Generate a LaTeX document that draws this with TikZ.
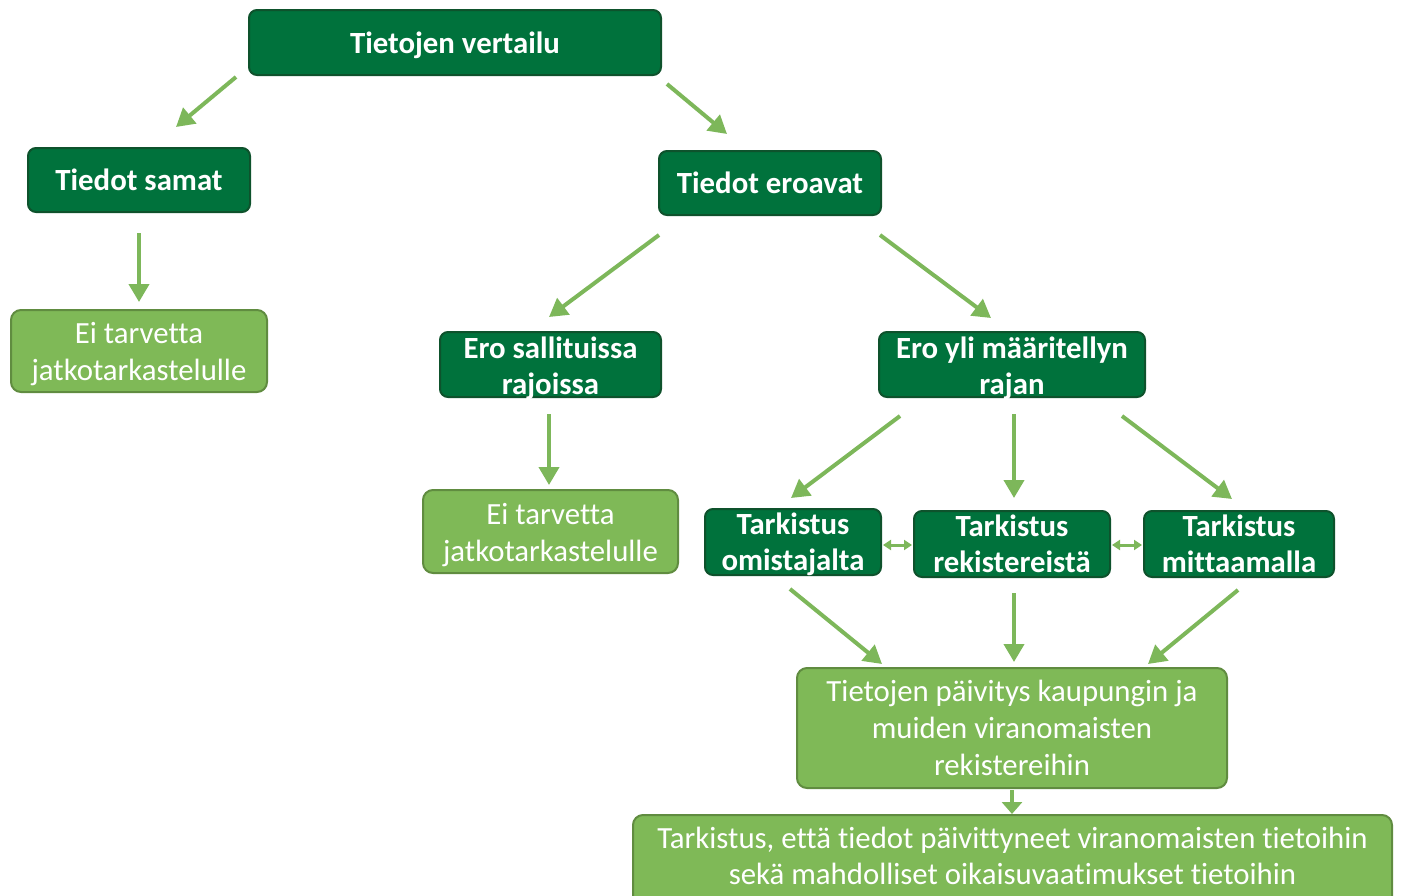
\documentclass[tikz,border=0pt]{standalone}
\usepackage{fontspec}
\setmainfont{Carlito}[Ligatures=NoCommon]
\usetikzlibrary{arrows.meta}
\definecolor{dkfill}{RGB}{0,114,60}
\definecolor{dkline}{RGB}{14,82,44}
\definecolor{ltfill}{RGB}{127,185,87}
\definecolor{ltline}{RGB}{96,140,64}
\definecolor{arr}{RGB}{125,183,90}
\tikzset{
  dkbox/.style={draw=dkline, fill=dkfill, line width=1pt, rounded corners=4pt, inner sep=0pt},
  ltbox/.style={draw=ltline, fill=ltfill, line width=1pt, rounded corners=5pt, inner sep=0pt},
  dktext/.style={text=white, font=\fontsize{15.4}{18}\selectfont\bfseries, align=center, inner sep=0pt},
  lttext/.style={text=white, font=\fontsize{15.4}{18.3}\selectfont, align=center, inner sep=0pt},
  garrow/.style={draw=arr, line width=2pt, -{Triangle[width=10pt,length=9pt]}},
  darrow/.style={draw=arr, line width=1.5pt, {Triangle[width=5pt,length=4pt]}-{Triangle[width=5pt,length=4pt]}}
}
\begin{document}
\begin{tikzpicture}[x=0.5pt,y=-0.5pt]
\useasboundingbox (0,0) rectangle (1403,895);
% boxes
\node[dkbox, minimum width=206pt, minimum height=32.5pt] (top) at (455,42.5) {};
\node[dkbox, minimum width=111pt, minimum height=32pt] (same) at (139,180) {};
\node[ltbox, minimum width=128pt, minimum height=41pt] (ei1) at (139,351) {};
\node[dkbox, minimum width=111pt, minimum height=32pt] (diff) at (770,183) {};
\node[dkbox, minimum width=110.5pt, minimum height=32.5pt] (sall) at (550.5,364.5) {};
\node[ltbox, minimum width=127.5pt, minimum height=41.5pt] (ei2) at (550.5,531.5) {};
\node[dkbox, minimum width=133pt, minimum height=32.5pt] (yli) at (1012,364.5) {};
\node[dkbox, minimum width=88pt, minimum height=33pt] (omis) at (793,542) {};
\node[dkbox, minimum width=98pt, minimum height=33pt] (rek) at (1012,544) {};
\node[dkbox, minimum width=95pt, minimum height=33pt] (mitt) at (1239,544) {};
\node[ltbox, minimum width=215pt, minimum height=60pt] (paiv) at (1012,728) {};
\node[ltbox, minimum width=379.5pt, minimum height=46pt] (tark) at (1012.5,861) {};
% texts
\node[dktext] (topT) at ([yshift=-1.5pt]top.center) {Tietojen vertailu};
\node[dktext] (sameT) at (same.center) {Tiedot samat};
\node[lttext] (ei1T) at ([yshift=-1.5pt]ei1.center) {Ei tarvetta\\jatkotarkastelulle};
\node[dktext] (diffT) at (diff.center) {Tiedot eroavat};
\node[dktext] (sallT) at ([yshift=-2pt]sall.center) {Ero sallituissa\\rajoissa};
\node[lttext] (ei2T) at ([yshift=-1.7pt]ei2.center) {Ei tarvetta\\jatkotarkastelulle};
\node[dktext] (yliT) at ([yshift=-2pt]yli.center) {Ero yli määritellyn\\rajan};
\node[dktext] (omisT) at ([yshift=-1.3pt]omis.center) {Tarkistus\\omistajalta};
\node[dktext] (rekT) at (rek.center) {Tarkistus\\rekistereistä};
\node[dktext] (mittT) at (mitt.center) {Tarkistus\\mittaamalla};
\node[lttext] (paivT) at (paiv.center) {Tietojen päivitys kaupungin ja\\muiden viranomaisten\\rekistereihin};
\node[lttext] (tarkT) at ([yshift=2.5pt]tark.center) {Tarkistus, että tiedot päivittyneet viranomaisten tietoihin\\sekä mahdolliset oikaisuvaatimukset tietoihin};
% arrow end points
\coordinate (a1s) at (236,77);  \coordinate (a1e) at (176,127);
\coordinate (a2s) at (667,84);  \coordinate (a2e) at (727,134);
\coordinate (a3s) at (139,233); \coordinate (a3e) at (139,302);
\coordinate (a4s) at (659,235); \coordinate (a4e) at (549,317);
\coordinate (a5s) at (880,235); \coordinate (a5e) at (991,318);
\coordinate (a6s) at (549,414); \coordinate (a6e) at (549,485);
\coordinate (a7s) at (900,416); \coordinate (a7e) at (791,498);
\coordinate (a8s) at (1014,414); \coordinate (a8e) at (1014,498);
\coordinate (a9s) at (1122,416); \coordinate (a9e) at (1232,499);
\coordinate (a10s) at (790,589); \coordinate (a10e) at (882,664);
\coordinate (a11s) at (1014,593); \coordinate (a11e) at (1014,662);
\coordinate (a12s) at (1238,590); \coordinate (a12e) at (1148,664);
\coordinate (a13s) at (1012,790); \coordinate (a13e) at (1012,814);
\coordinate (d1s) at (883,545); \coordinate (d1e) at (912,545);
\coordinate (d2s) at (1112,545); \coordinate (d2e) at (1142,545);
% arrows
\foreach \i in {1,...,12} {\draw[garrow] (a\i s) -- (a\i e);}
\draw[draw=arr, line width=2pt, -{Triangle[width=10pt,length=6pt]}] (a13s) -- (a13e);
\draw[darrow] (d1s) -- (d1e);
\draw[darrow] (d2s) -- (d2e);
\end{tikzpicture}
\end{document}
